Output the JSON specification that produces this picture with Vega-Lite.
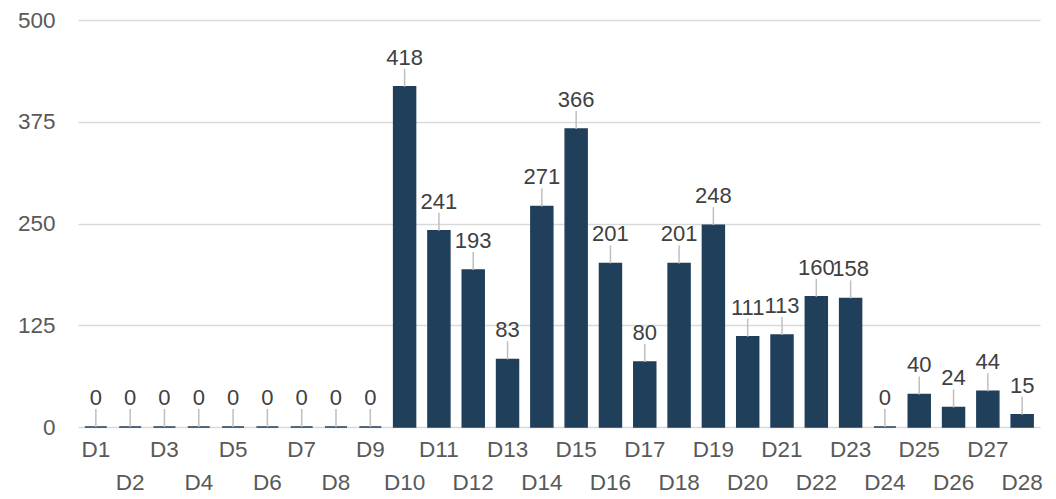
{
  "$schema": "https://vega.github.io/schema/vega-lite/v6.json",
  "width": 962,
  "height": 407,
  "autosize": {"type": "none"},
  "padding": {"left": 78, "top": 20, "right": 16, "bottom": 72},
  "background": "white",
  "config": {"view": {"stroke": null}, "font": "Liberation Sans"},
  "data": {"values": [
    {"day": "D1", "value": 0}, {"day": "D2", "value": 0}, {"day": "D3", "value": 0}, {"day": "D4", "value": 0},
    {"day": "D5", "value": 0}, {"day": "D6", "value": 0}, {"day": "D7", "value": 0}, {"day": "D8", "value": 0},
    {"day": "D9", "value": 0}, {"day": "D10", "value": 418}, {"day": "D11", "value": 241}, {"day": "D12", "value": 193},
    {"day": "D13", "value": 83}, {"day": "D14", "value": 271}, {"day": "D15", "value": 366}, {"day": "D16", "value": 201},
    {"day": "D17", "value": 80}, {"day": "D18", "value": 201}, {"day": "D19", "value": 248}, {"day": "D20", "value": 111},
    {"day": "D21", "value": 113}, {"day": "D22", "value": 160}, {"day": "D23", "value": 158}, {"day": "D24", "value": 0},
    {"day": "D25", "value": 40}, {"day": "D26", "value": 24}, {"day": "D27", "value": 44}, {"day": "D28", "value": 15}
  ]},
  "encoding": {
    "x": {
      "field": "day", "type": "nominal", "sort": null,
      "scale": {"paddingInner": 0.36, "paddingOuter": 0.2},
      "axis": {
        "title": null, "domain": false, "ticks": false, "labelAngle": 0,
        "labelFontSize": 22.5, "labelColor": "#595959", "labelBaseline": "top",
        "labelPadding": {"condition": {"test": "toNumber(slice(datum.value, 1)) % 2 === 0", "value": 44}, "value": 11},
        "labelOverlap": false
      }
    },
    "y": {
      "field": "value", "type": "quantitative",
      "scale": {"domain": [0, 500], "nice": false},
      "axis": {
        "title": null, "domain": false, "ticks": false, "values": [0, 125, 250, 375, 500],
        "labelFontSize": 22.5, "labelColor": "#595959", "labelPadding": 23,
        "gridColor": "#d9d9d9", "gridWidth": 1.5
      }
    }
  },
  "layer": [
    {"mark": {"type": "bar", "color": "#203f5a", "stroke": "#203f5a", "strokeWidth": 1.5}},
    {"mark": {"type": "rule", "color": "#bfbfbf", "strokeWidth": 1.5, "y2Offset": -18},
     "encoding": {"y2": {"field": "value"}}},
    {"mark": {"type": "text", "baseline": "alphabetic", "dy": -22, "fontSize": 22, "color": "#404040"},
     "encoding": {"text": {"field": "value", "type": "quantitative"}}}
  ]
}
